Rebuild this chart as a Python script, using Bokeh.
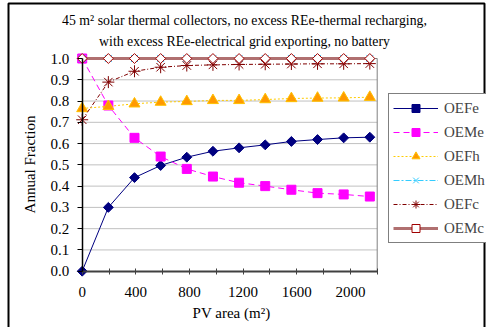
import math
from bokeh.plotting import figure
from bokeh.models import (FixedTicker, PrintfTickFormatter, Legend, LegendItem,
                          Label, ColumnDataSource)
from bokeh.embed import file_html
from bokeh.resources import INLINE

# PV area (m^2) and annual fractions
pv_area = [0, 195, 390, 585, 780, 975, 1170, 1365, 1560, 1755, 1950, 2145]
oefe = [0.0, 0.30, 0.44, 0.497, 0.536, 0.564, 0.580, 0.594, 0.610, 0.619, 0.627, 0.630]
oeme = [1.0, 0.779, 0.627, 0.539, 0.481, 0.445, 0.416, 0.400, 0.383, 0.367, 0.361, 0.351]
oefh = [0.765, 0.775, 0.787, 0.795, 0.798, 0.803, 0.803, 0.807, 0.812, 0.814, 0.815, 0.818]
oemh = [1.0] * 12
oefc = [0.712, 0.889, 0.940, 0.959, 0.967, 0.970, 0.972, 0.973, 0.974, 0.975, 0.975, 0.976]
oemc = [1.0] * 12

x_ticks = [0, 400, 800, 1200, 1600, 2000]
x_minor = [200, 600, 1000, 1400, 1800, 2200]
y_ticks = [round(0.1 * i, 1) for i in range(11)]

X_MAX = 2200
Y_MAX = 1.0

W, H = 486, 327
FONT = "Liberation Serif"

# the plotting box inside the canvas, in pixels
BOX_L, BOX_R, BOX_T, BOX_B = 81.7, 376.7, 58.0, 270.7


def px2x(px):
    return (px - BOX_L) / (BOX_R - BOX_L) * X_MAX


def px2y(py):
    return (BOX_B - py) / (BOX_B - BOX_T) * Y_MAX


# the frame covers the whole canvas so that marks, legend and labels can
# sit outside the plotting box
p = figure(width=W, height=H, output_backend="svg", toolbar_location=None,
           title=None,
           x_range=(px2x(0), px2x(W)), y_range=(px2y(H), px2y(0)),
           min_border=0)
p.outline_line_color = None
p.background_fill_color = "white"
p.border_fill_color = "white"
p.xgrid.visible = False
p.ygrid.visible = False

# outer chart border
p.quad(left=px2x(8), right=px2x(484), top=px2y(3), bottom=px2y(345),
       fill_color=None, line_color="black", line_width=2)

# horizontal gridlines and the grey plot-area border
p.segment(x0=0, x1=X_MAX, y0=y_ticks[1:], y1=y_ticks[1:],
          line_color="#C0C0C0", line_width=1)
p.segment(x0=[X_MAX, 0], x1=[X_MAX, X_MAX], y0=[0, Y_MAX], y1=[Y_MAX, Y_MAX],
          line_color="#808080", line_width=1)

# axes pinned to the data origin
p.xaxis.fixed_location = 0
p.yaxis.fixed_location = 0
p.xaxis.bounds = (0, X_MAX)
p.yaxis.bounds = (0, Y_MAX)
p.xaxis.ticker = FixedTicker(ticks=x_ticks, minor_ticks=x_minor)
p.yaxis.ticker = FixedTicker(ticks=y_ticks)
p.yaxis.formatter = PrintfTickFormatter(format="%.1f")

for ax in (p.xaxis[0], p.yaxis[0]):
    ax.major_label_text_font = FONT
    ax.major_label_text_font_size = "15px"
    ax.major_label_text_color = "black"

p.yaxis.axis_line_color = "black"
p.yaxis.axis_line_width = 1.5
p.yaxis.major_tick_out = 5
p.yaxis.major_tick_in = 0
p.yaxis.major_tick_line_color = "black"
p.yaxis.minor_tick_line_color = None
p.yaxis.major_label_standoff = 8

p.xaxis.axis_line_color = "#404040"
p.xaxis.axis_line_width = 2
p.xaxis.major_tick_out = 3
p.xaxis.major_tick_in = 3
p.xaxis.minor_tick_out = 3
p.xaxis.minor_tick_in = 3
p.xaxis.major_tick_line_color = "#404040"
p.xaxis.minor_tick_line_color = "#404040"
p.xaxis.major_label_standoff = 13

src = ColumnDataSource(dict(x=pv_area, oefe=oefe, oeme=oeme, oefh=oefh,
                            oemh=oemh, oefc=oefc, oemc=oemc))

DIAMOND = math.pi / 4
items = []

l = p.line("x", "oefe", source=src, line_color="#000080", line_width=1)
m = p.scatter("x", "oefe", source=src, marker="square", angle=DIAMOND, size=7,
              fill_color="#000080", line_color="#000080")
items.append(LegendItem(label="OEFe", renderers=[l, m]))

l = p.line("x", "oeme", source=src, line_color="#FF00FF", line_width=1, line_dash="6 4")
m = p.scatter("x", "oeme", source=src, marker="square", size=9,
              fill_color="#FF00FF", line_color="#FF00FF")
items.append(LegendItem(label="OEMe", renderers=[l, m]))

l = p.line("x", "oefh", source=src, line_color="#FFCC00", line_width=1, line_dash="2 2")
m = p.scatter("x", "oefh", source=src, marker="triangle", size=11,
              fill_color="#FF9900", line_color="#FFC000")
items.append(LegendItem(label="OEFh", renderers=[l, m]))

l = p.line("x", "oemh", source=src, line_color="#33CCFF", line_width=1, line_dash="6 2 2 2")
m = p.scatter("x", "oemh", source=src, marker="x", size=10,
              line_color="#33CCFF", line_width=1)
items.append(LegendItem(label="OEMh", renderers=[l, m]))

l = p.line("x", "oefc", source=src, line_color="#800000", line_width=1, line_dash="4 2 1 2")
m = p.scatter("x", "oefc", source=src, marker="asterisk", size=12,
              line_color="#800000", line_width=1)
items.append(LegendItem(label="OEFc", renderers=[l, m]))

l = p.line("x", "oemc", source=src, line_color="#B07070", line_width=3)
m = p.scatter("x", "oemc", source=src, marker="square", angle=DIAMOND, size=7,
              fill_color="white", line_color="#A00000", line_width=1)
items.append(LegendItem(label="OEMc", renderers=[l, m]))

LEG_L, LEG_T = 388, 95
legend_h = 6 * 20 + 5 * 4 + 2 * 4
legend = Legend(items=items, location=(LEG_L, H - LEG_T - legend_h),
                label_text_font=FONT, label_text_font_size="15px",
                glyph_width=45, glyph_height=20, label_height=20,
                spacing=4, padding=4, margin=0, label_standoff=6,
                border_line_color="black", border_line_width=1,
                background_fill_color="white", background_fill_alpha=1)
p.add_layout(legend, "center")

# title and axis titles
title_lines = ["45 m\u00b2 solar thermal collectors, no excess REe-thermal recharging,",
               "with excess REe-electrical grid exporting, no battery"]
for txt, py in zip(title_lines, (20, 41)):
    p.add_layout(Label(x=px2x(244), y=px2y(py), text=txt, text_font=FONT,
                       text_font_size="13.8px", text_align="center",
                       text_baseline="middle", text_color="black"))

p.add_layout(Label(x=px2x(29), y=px2y(164), text="Annual Fraction", angle=math.pi / 2,
                   text_font=FONT, text_font_size="15px", text_align="center",
                   text_baseline="middle", text_color="black"))
p.add_layout(Label(x=px2x(231), y=px2y(312), text="PV area (m\u00b2)",
                   text_font=FONT, text_font_size="15px", text_align="center",
                   text_baseline="middle", text_color="black"))

open("out.html", "w").write(file_html(p, INLINE))
